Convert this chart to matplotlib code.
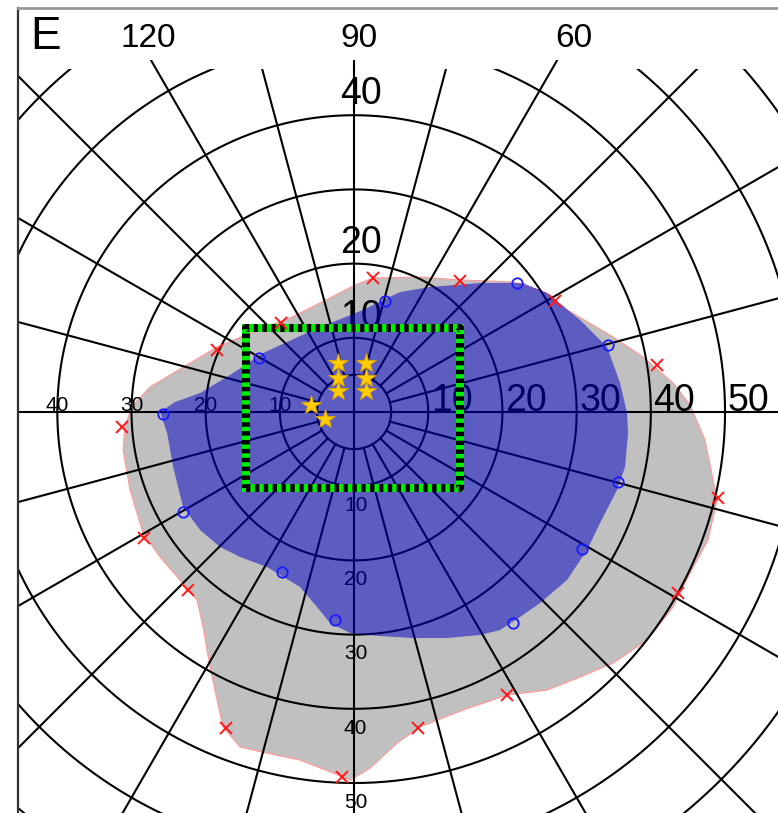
import numpy as np
import matplotlib
matplotlib.use("Agg")
import matplotlib.pyplot as plt
from matplotlib.patches import Polygon, Rectangle

plt.rcParams['font.family'] = ['Liberation Sans', 'DejaVu Sans']

# ---------------- data (degrees of visual field, x = horizontal, y = vertical) ----------------
ring_ecc = [5, 10, 20, 30, 40, 50, 60, 70, 80, 90]
meridians = list(range(0, 360, 15))
top_meridian_labels = ['120', '90', '60']

# outer isopter (grey area) boundary
outer_x = [-30.86, -29.78, -27.49, -24.12, -18.46, -14.02, -8.63, -3.23, 0.13, 2.56,
           8.89, 14.29, 21.43, 26.01, 28.71, 34.91, 38.95, 42.99, 45.28, 47.30,
           48.92, 47.71, 45.28, 42.99, 39.49, 34.91, 30.46, 26.01, 20.62, 14.69,
           8.89, 5.80, 2.16, -0.54, -2.83, -7.28, -11.73, -15.36, -17.65, -18.46,
           -19.41, -20.35, -21.16, -23.45, -26.15, -28.44, -30.19, -31.13]
outer_y = [-1.75, 0.94, 3.37, 5.39, 8.76, 10.65, 12.67, 15.36, 17.12, 18.06,
           18.19, 17.79, 17.52, 16.04, 13.75, 10.11, 7.41, 3.91, 0.94, -3.77,
           -11.86, -17.25, -21.70, -26.28, -30.73, -33.83, -35.71, -37.47, -38.14, -40.16,
           -42.45, -44.61, -47.98, -49.60, -48.65, -46.90, -45.96, -45.15, -42.45, -38.81,
           -34.37, -28.98, -25.34, -22.64, -19.54, -16.31, -10.51, -5.12]

# inner isopter (blue area) boundary
inner_x = [-26.15, -24.12, -20.75, -16.71, -12.26, -5.53, 1.21, 6.20, 10.24, 16.98,
           22.78, 26.01, 30.46, 34.10, 35.85, 36.79, 36.93, 36.52, 35.44, 33.15,
           31.40, 28.71, 25.07, 22.37, 19.68, 16.98, 12.53, 7.95, 3.50, -0.54,
           -3.23, -4.99, -7.28, -11.73, -15.36, -18.06, -20.75, -23.05, -24.39, -25.20]
inner_y = [0.00, 1.35, 2.56, 4.99, 7.95, 11.05, 13.75, 16.17, 16.85, 17.39,
           17.39, 16.04, 12.40, 8.76, 3.91, -0.13, -2.83, -7.41, -10.51, -14.96,
           -18.60, -22.64, -25.74, -27.63, -29.38, -30.05, -30.46, -30.46, -30.19, -29.78,
           -28.44, -26.28, -23.58, -20.89, -19.54, -18.19, -15.90, -12.80, -7.41, -2.83]

# seen points: outer target (x) and inner target (o)
outer_pts_x = [2.56, 14.29, 27.09, 40.84, 49.06, 43.67, 20.62, 8.63, -1.62, -17.25,
               -22.37, -28.30, -31.27, -18.46, -9.84]
outer_pts_y = [18.06, 17.65, 14.96, 6.33, -11.59, -24.39, -38.14, -42.59, -49.19, -42.59,
               -23.99, -16.98, -2.02, 8.36, 11.99]
inner_pts_x = [4.18, 21.97, 34.23, 35.58, 30.73, 21.43, -2.56, -9.70, -23.05, -25.74, -12.80]
inner_pts_y = [14.96, 17.39, 9.03, -9.43, -18.46, -28.44, -28.03, -21.56, -13.48, -0.27, 7.28]

# central stars
star_x = [-2.16, 1.62, -2.16, 1.62, -2.16, 1.62, -5.80, -3.91]
star_y = [6.60, 6.60, 4.58, 4.58, 2.83, 2.83, 0.94, -0.94]

# dashed rectangle (extent in degrees)
rect_x = [-14.6, 14.3]
rect_y = [-10.2, 11.3]

# ---------------- figure ----------------
XMIN, XMAX, YMIN, YMAX = -45.3, 57.14, -54.04, 54.45
fig = plt.figure(figsize=(7.78, 8.13), dpi=100)
ax = fig.add_axes([18 / 778, 0, 760 / 778, 805 / 813])
ax.set_xlim(XMIN, XMAX)
ax.set_ylim(YMIN, YMAX)
ax.set_xticks([])
ax.set_yticks([])
for s in ['right', 'bottom']:
    ax.spines[s].set_visible(False)
ax.spines['left'].set_color('#333333')
ax.spines['left'].set_linewidth(1.6)
ax.spines['top'].set_color('#999999')
ax.spines['top'].set_linewidth(2.0)

# grey outer area
ax.add_patch(Polygon(np.column_stack([outer_x, outer_y]), closed=True,
                     facecolor='#c0c0c0', edgecolor='#ff9c9c', lw=0.9, zorder=1))

# grid (clipped below the label strip at the top)
clip_main = Rectangle((XMIN, YMIN), XMAX - XMIN, 46.2 - YMIN, transform=ax.transData)
clip_long = Rectangle((XMIN, YMIN), XMAX - XMIN, 47.4 - YMIN, transform=ax.transData)
t = np.linspace(0, 2 * np.pi, 1441)
for r in ring_ecc:
    ln, = ax.plot(r * np.cos(t), r * np.sin(t), color='black', lw=1.5, zorder=2)
    ln.set_clip_path(clip_main)
for m in meridians:
    a = np.deg2rad(m)
    r0 = 0 if m % 90 == 0 else 5
    ln, = ax.plot([r0 * np.cos(a), 100 * np.cos(a)], [r0 * np.sin(a), 100 * np.sin(a)],
                  color='black', lw=1.5, zorder=2)
    ln.set_clip_path(clip_long if m in (60, 90, 120) else clip_main)

# ring labels
for r in [10, 20, 30, 40, 50]:
    ax.text(r + 0.35, 0.2, str(r), fontsize=27, ha='left', va='baseline', zorder=3)
for r in [10, 20, 30, 40]:
    ax.text(-r, 0.2, str(r), fontsize=15, ha='center', va='baseline', zorder=3)
for r in [10, 20, 40]:
    ax.text(1.0, r + 2.8, str(r), fontsize=27, ha='center', va='center', zorder=3)
for r in [10, 20, 30, 40, 50]:
    ax.text(0.2, -(r + 2.6), str(r), fontsize=15, ha='center', va='center', zorder=3)

# meridian labels at the top
for lab, xx in zip(top_meridian_labels, [-27.76, 0.67, 29.65]):
    ax.text(xx, 50.4, lab, fontsize=24, ha='center', va='center', zorder=3)
ax.text(-41.64, 50.6, 'E', fontsize=33, ha='center', va='center', zorder=3)

# blue inner area (semi-transparent, over the grid)
ax.add_patch(Polygon(np.column_stack([inner_x, inner_y]), closed=True,
                     facecolor=(0, 0, 194 / 255), alpha=0.52, edgecolor='none', zorder=4))

# dashed green/black rectangle
rx = [rect_x[0], rect_x[1], rect_x[1], rect_x[0], rect_x[0]]
ry = [rect_y[0], rect_y[0], rect_y[1], rect_y[1], rect_y[0]]
ax.plot(rx, ry, color='#00ee00', lw=5.8, solid_joinstyle='miter', zorder=5)
ax.plot(rx, ry, color='black', lw=5.8, dashes=(0.55, 0.55), dash_capstyle='butt', zorder=5.1)

# markers
ax.plot(outer_pts_x, outer_pts_y, ls='none', marker='x', ms=9, mew=1.4, color='#ff1a1a', zorder=6)
ax.plot(inner_pts_x, inner_pts_y, ls='none', marker='o', ms=7.5, mew=1.3, mfc='none',
        mec='#1a1aff', zorder=6)
ax.plot(star_x, star_y, ls='none', marker='*', ms=15, mfc='#ffcc00', mec='#d9a400', mew=0.6, zorder=7)

fig.savefig('out.png', dpi=100)
